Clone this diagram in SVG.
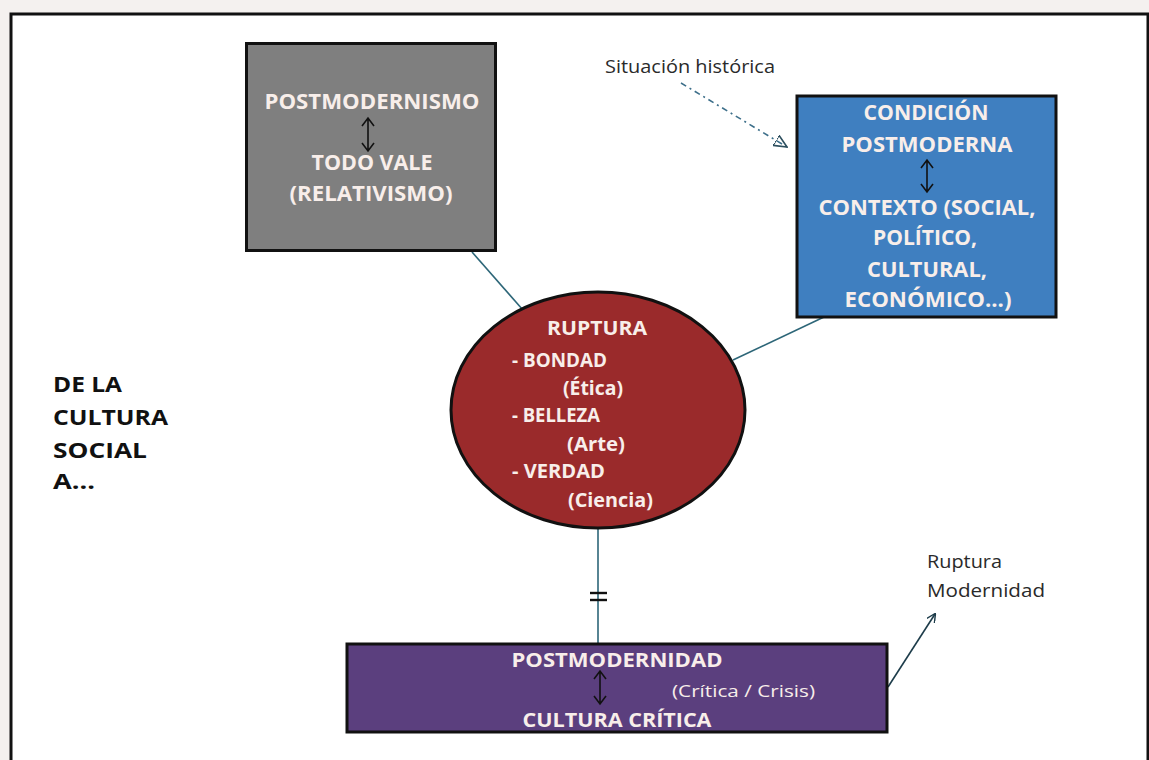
<svg xmlns="http://www.w3.org/2000/svg" width="1149" height="760" viewBox="0 0 1149 760">
  <style>
    .box { stroke: #111; stroke-width: 3; }
    .lbl { font-family: "Open Sans", Lato, "Liberation Sans", sans-serif; font-weight: bold; fill: #f8eeea; text-anchor: middle; }
    .lbl-l { font-family: "Open Sans", Lato, "Liberation Sans", sans-serif; font-weight: bold; fill: #f8eeea; }
    .thin { font-family: "Open Sans", Lato, "Liberation Sans", sans-serif; fill: #f8eeea; }
    .note { font-family: "Open Sans", Lato, "Liberation Sans", sans-serif; fill: #2a2a2a; font-size: 18px; }
    .side { font-family: "Open Sans", Lato, "Liberation Sans", sans-serif; font-weight: bold; fill: #111; font-size: 22px; }
    .link { stroke: #2d6678; stroke-width: 1.6; fill: none; }
    .dbl { stroke: #111; stroke-width: 1.6; fill: none; }
  </style>
  <defs>
    <marker id="open-head" viewBox="0 0 10 10" refX="9" refY="5" markerWidth="9" markerHeight="9" orient="auto" markerUnits="userSpaceOnUse">
      <path d="M0,0 L10,5 L0,10" fill="none" stroke="#1d3c4a" stroke-width="1.6"/>
    </marker>
    <marker id="tri-head" viewBox="0 0 12 12" refX="11" refY="6" markerWidth="14" markerHeight="14" orient="auto" markerUnits="userSpaceOnUse">
      <path d="M0,1 L11,6 L0,11 Z" fill="none" stroke="#2d4f5e" stroke-width="1.4"/>
    </marker>
  </defs>

  <!-- page background and frame -->
  <rect x="0" y="0" width="1149" height="760" fill="#f4f1ef"/>
  <rect x="11" y="14" width="1137" height="760" fill="#ffffff" stroke="#111" stroke-width="3"/>

  <!-- connectors -->
  <g id="connectors">
    <line class="link" x1="472" y1="252" x2="523" y2="310"/>
    <line class="link" x1="824" y1="317" x2="733" y2="360"/>
    <line class="link" x1="598" y1="528" x2="598" y2="643"/>
    <line x1="590" y1="593" x2="607" y2="593" stroke="#111" stroke-width="2.4"/>
    <line x1="590" y1="600" x2="607" y2="600" stroke="#111" stroke-width="2.4"/>
    <line x1="888" y1="687" x2="935" y2="614" stroke="#1d3c4a" stroke-width="1.6" marker-end="url(#open-head)"/>
    <line x1="681" y1="83" x2="787" y2="147" stroke="#3d6f8a" stroke-width="1.6" stroke-dasharray="6 4 2 4" marker-end="url(#tri-head)"/>
  </g>

  <!-- POSTMODERNISMO node -->
  <g id="node-postmodernismo">
    <rect class="box" x="246.5" y="43.5" width="249" height="207" fill="#7f7f7f"/>
    <text class="lbl" x="372" y="109" font-size="21" textLength="215" lengthAdjust="spacingAndGlyphs">POSTMODERNISMO</text>
    <path class="dbl" d="M368,118 V151 M362,126 L368,118 L374,126 M362,143 L368,151 L374,143"/>
    <text class="lbl" x="372" y="170" font-size="21" textLength="121" lengthAdjust="spacingAndGlyphs">TODO VALE</text>
    <text class="lbl" x="371" y="201" font-size="21" textLength="163" lengthAdjust="spacingAndGlyphs">(RELATIVISMO)</text>
  </g>

  <!-- CONDICIÓN POSTMODERNA node -->
  <g id="node-condicion">
    <rect class="box" x="797" y="96" width="259" height="221" fill="#3f7fc0"/>
    <text class="lbl" x="926" y="120" font-size="21" textLength="125" lengthAdjust="spacingAndGlyphs">CONDICIÓN</text>
    <text class="lbl" x="927" y="152" font-size="21" textLength="171" lengthAdjust="spacingAndGlyphs">POSTMODERNA</text>
    <path class="dbl" d="M927,160 V192 M921,168 L927,160 L933,168 M921,184 L927,192 L933,184"/>
    <text class="lbl" x="927" y="215" font-size="21" textLength="217" lengthAdjust="spacingAndGlyphs">CONTEXTO (SOCIAL,</text>
    <text class="lbl" x="925" y="245" font-size="21" textLength="104" lengthAdjust="spacingAndGlyphs">POLÍTICO,</text>
    <text class="lbl" x="927" y="277" font-size="21" textLength="120" lengthAdjust="spacingAndGlyphs">CULTURAL,</text>
    <text class="lbl" x="928" y="307" font-size="21" textLength="167" lengthAdjust="spacingAndGlyphs">ECONÓMICO...)</text>
  </g>

  <!-- RUPTURA node -->
  <g id="node-ruptura">
    <ellipse cx="598" cy="410" rx="147" ry="118" fill="#9a2a2b" stroke="#111" stroke-width="3"/>
    <text class="lbl" x="597" y="335" font-size="20" textLength="100" lengthAdjust="spacingAndGlyphs">RUPTURA</text>
    <text class="lbl-l" x="512" y="367" font-size="19" textLength="95" lengthAdjust="spacingAndGlyphs">- BONDAD</text>
    <text class="lbl-l" x="563" y="395" font-size="19" textLength="60" lengthAdjust="spacingAndGlyphs">(Ética)</text>
    <text class="lbl-l" x="512" y="422" font-size="19" textLength="88" lengthAdjust="spacingAndGlyphs">- BELLEZA</text>
    <text class="lbl-l" x="567" y="451" font-size="19" textLength="58" lengthAdjust="spacingAndGlyphs">(Arte)</text>
    <text class="lbl-l" x="512" y="478" font-size="19" textLength="93" lengthAdjust="spacingAndGlyphs">- VERDAD</text>
    <text class="lbl-l" x="568" y="507" font-size="19" textLength="85" lengthAdjust="spacingAndGlyphs">(Ciencia)</text>
  </g>

  <!-- POSTMODERNIDAD node -->
  <g id="node-postmodernidad">
    <rect class="box" x="347" y="644" width="540" height="88" fill="#5b3f7e"/>
    <text class="lbl" x="617" y="667" font-size="20" textLength="211" lengthAdjust="spacingAndGlyphs">POSTMODERNIDAD</text>
    <path class="dbl" d="M600,671 V704 M594,679 L600,671 L606,679 M594,696 L600,704 L606,696"/>
    <text class="thin" x="672" y="697" font-size="17" textLength="143" lengthAdjust="spacingAndGlyphs">(Crítica / Crisis)</text>
    <text class="lbl" x="617" y="727" font-size="20" textLength="189" lengthAdjust="spacingAndGlyphs">CULTURA CRÍTICA</text>
  </g>

  <!-- side title -->
  <g id="title-side">
    <text class="side" x="53" y="392" textLength="69" lengthAdjust="spacingAndGlyphs">DE LA</text>
    <text class="side" x="53" y="425" textLength="115" lengthAdjust="spacingAndGlyphs">CULTURA</text>
    <text class="side" x="53" y="458" textLength="94" lengthAdjust="spacingAndGlyphs">SOCIAL</text>
    <text class="side" x="53" y="489" textLength="42" lengthAdjust="spacingAndGlyphs">A...</text>
  </g>

  <!-- annotations -->
  <g id="note-situacion">
    <text class="note" x="605" y="73" textLength="170" lengthAdjust="spacingAndGlyphs">Situación histórica</text>
  </g>
  <g id="note-ruptura-modernidad">
    <text class="note" x="927" y="568" textLength="75" lengthAdjust="spacingAndGlyphs">Ruptura</text>
    <text class="note" x="927" y="597" textLength="118" lengthAdjust="spacingAndGlyphs">Modernidad</text>
  </g>
</svg>
